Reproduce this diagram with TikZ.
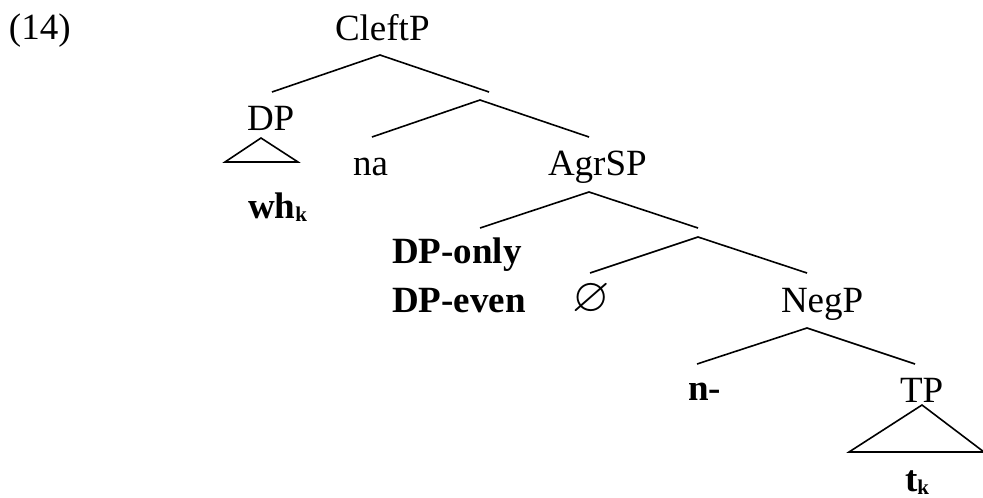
\documentclass[tikz,border=0pt]{standalone}
\usepackage{amssymb}
\usepackage{fontspec}
\setmainfont{Liberation Serif}
\tikzset{
  lbl/.style={anchor=base west, inner sep=0pt, outer sep=0pt, font=\fontsize{37}{44}\selectfont},
  blbl/.style={lbl, font=\fontsize{37}{44}\selectfont\bfseries},
  branch/.style={line width=1.6pt, line join=miter},
}
\newcommand{\subk}{{\fontsize{21}{21}\selectfont\raisebox{-3pt}{k}}}
\begin{document}
\begin{tikzpicture}[x=1pt,y=-1pt]
\useasboundingbox (0,0) rectangle (983,498);
% labels
\node[lbl] (ex) at (9,39) {(14)};
\node[lbl] (cleft) at (335,40) {CleftP};
\node[lbl] (dp) at (247,130) {DP};
\node[blbl] (wh) at (248,218) {wh\subk};
\node[lbl] (na) at (353,175) {na};
\node[lbl] (agrsp) at (548,175) {AgrSP};
\node[blbl] (dponly) at (392,263) {DP-only};
\node[blbl] (dpeven) at (392,312) {DP-even};
\node[lbl] (empty) at (572,311) {\scalebox{1.3}{$\varnothing$}};
\node[lbl] (negp) at (781,312) {NegP};
\node[blbl] (n) at (688,400) {n-};
\node[lbl] (tp) at (900,402) {TP};
\node[blbl] (tk) at (905,491) {t\subk};
% branch points
\coordinate (a1) at (380,55);  \coordinate (l1) at (272,92);  \coordinate (r1) at (489,92);
\coordinate (a2) at (480,100); \coordinate (l2) at (372,137); \coordinate (r2) at (589,137);
\coordinate (a3) at (589,192); \coordinate (l3) at (480,228); \coordinate (r3) at (698,228);
\coordinate (a4) at (698,237); \coordinate (l4) at (590,273); \coordinate (r4) at (807,273);
\coordinate (a5) at (807,328); \coordinate (l5) at (697,364); \coordinate (r5) at (915,364);
\coordinate (t1a) at (261,138); \coordinate (t1l) at (225,162); \coordinate (t1r) at (298,162);
\coordinate (t2a) at (922,405); \coordinate (t2l) at (849,452); \coordinate (t2r) at (984,452);
\draw[branch] (l1) -- (a1) -- (r1);
\draw[branch] (l2) -- (a2) -- (r2);
\draw[branch] (l3) -- (a3) -- (r3);
\draw[branch] (l4) -- (a4) -- (r4);
\draw[branch] (l5) -- (a5) -- (r5);
\draw[branch] (t1a) -- (t1l) -- (t1r) -- cycle;
\draw[branch] (t2a) -- (t2l) -- (t2r) -- cycle;
\end{tikzpicture}
\end{document}
